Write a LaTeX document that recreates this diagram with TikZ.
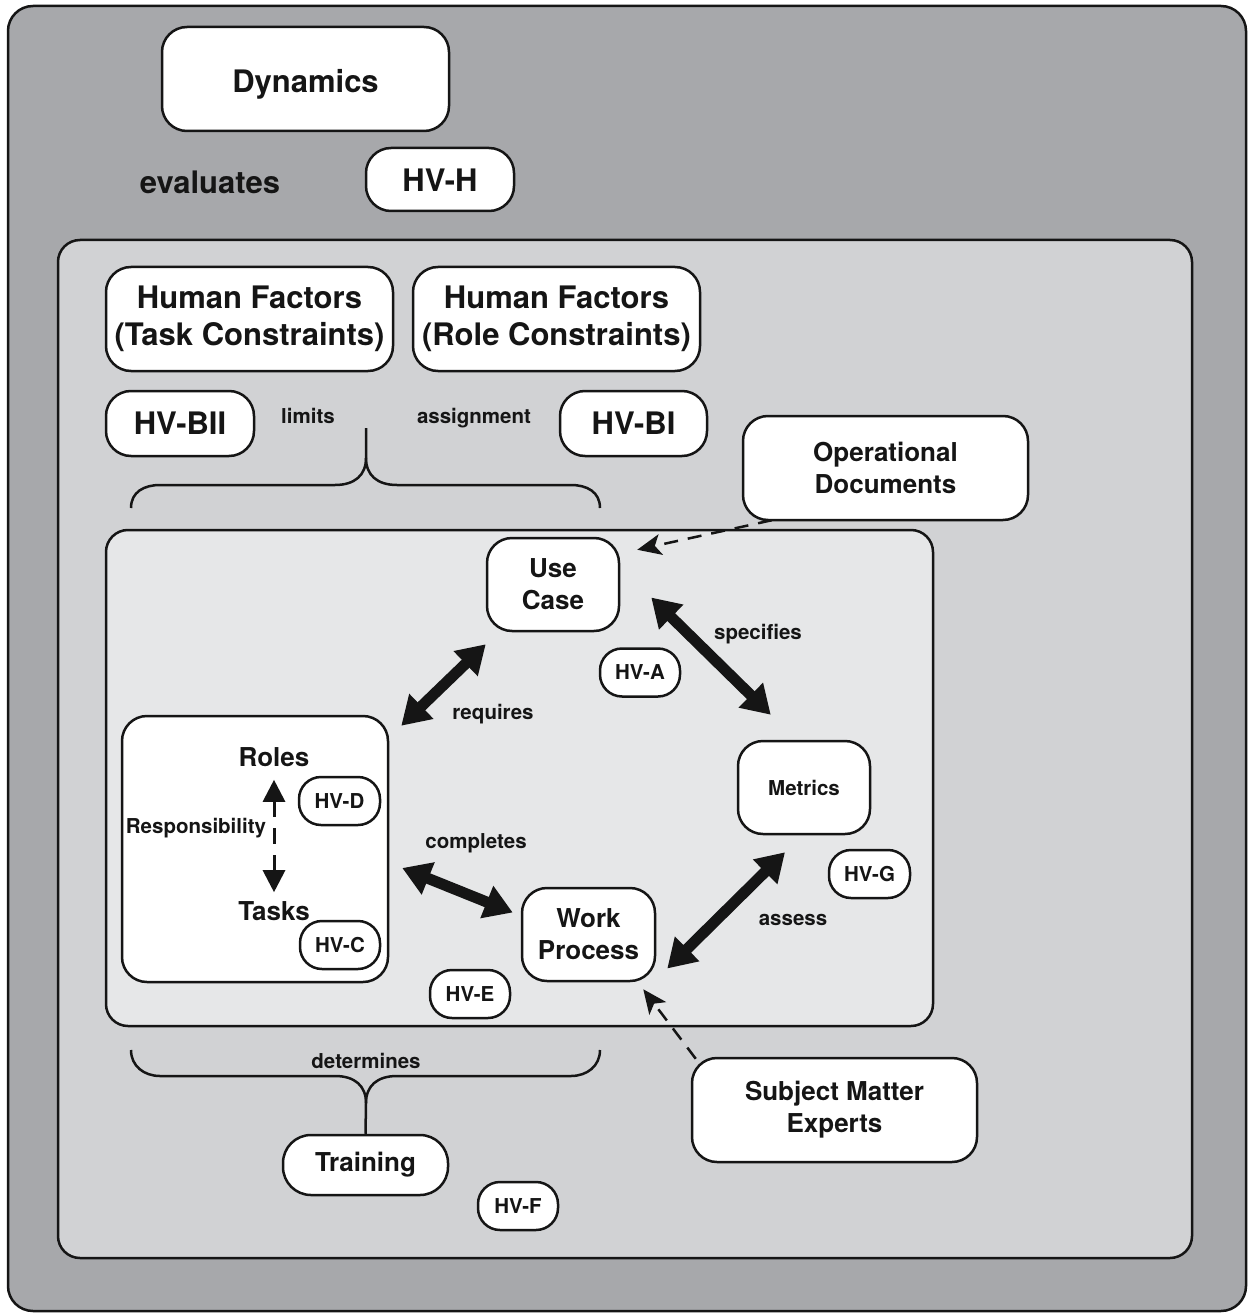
\documentclass[tikz,border=0pt]{standalone}
\usepackage{fontspec}
\setmainfont{TeX Gyre Heros}
\usetikzlibrary{arrows.meta,calc}
\definecolor{gOuter}{HTML}{A7A8AB}
\definecolor{gMid}{HTML}{D1D2D4}
\definecolor{gIn}{HTML}{E6E7E8}
\definecolor{ink}{HTML}{151515}
\newcommand\fbig{\fontsize{31}{37}\selectfont\bfseries}
\newcommand\fmed{\fontsize{26}{32}\selectfont\bfseries}
\newcommand\fsml{\fontsize{20.5}{24}\selectfont\bfseries}
\tikzset{
  box/.style={draw=ink, fill=white, line width=2.5pt, rounded corners=25pt, align=center, inner sep=0pt, text=ink},
  pill/.style={box, rounded corners=22pt, font=\fsml, minimum width=80pt, minimum height=48pt},
  lbl/.style={inner sep=0pt, text=ink, align=center},
  panel/.style={draw=ink, line width=2.5pt},
  bigarrow/.style={line width=11pt, draw=ink, {Triangle[length=28pt,width=33pt]}-{Triangle[length=28pt,width=33pt]}, shorten <=0pt, shorten >=0pt},
  dasharrow/.style={line width=2.5pt, draw=ink, dash pattern=on 14pt off 10pt, -{Stealth[length=24pt,width=21pt,inset=6pt]}},
  bracestyle/.style={draw=ink, line width=2.5pt}
}
\begin{document}
\begin{tikzpicture}[x=1pt,y=-1pt]
\useasboundingbox (0,0) rectangle (1248,1313);
\fill[white] (0,0) rectangle (1248,1313);
% panels
\draw[panel, fill=gOuter, rounded corners=25pt] (8,6) rectangle (1246,1311);
\draw[panel, fill=gMid, rounded corners=22pt] (58,240) rectangle (1192,1258);
\draw[panel, fill=gIn, rounded corners=22pt] (106,530) rectangle (933,1026);
% top level
\node[box, font=\fbig, text height=28pt, text depth=0pt, minimum width=287pt, minimum height=104pt] (dyn) at (305.5,79) {Dynamics};
\node[lbl, font=\fbig] (eval) at (210,182) {evaluates};
\node[box, font=\fbig, text height=25pt, text depth=0pt, minimum width=148pt, minimum height=63pt] (hvh) at (440,179.5) {HV-H};
% human factors
\node[box, font=\fbig, minimum width=287pt, minimum height=104pt] (hft) at (249.5,319) {Human Factors\\(Task Constraints)};
\node[box, font=\fbig, minimum width=287pt, minimum height=104pt] (hfr) at (556.5,319) {Human Factors\\(Role Constraints)};
\node[box, font=\fbig, minimum width=148pt, minimum height=65pt] (hvbii) at (180,423.5) {HV-BII};
\node[box, font=\fbig, minimum width=147pt, minimum height=65pt] (hvbi) at (633.5,423.5) {HV-BI};
\node[lbl, font=\fsml] (limits) at (308,416) {limits};
\node[lbl, font=\fsml] (assign) at (474,418) {assignment};
% top brace
\draw[bracestyle] (131,508) .. controls (131,492) and (144,485) .. (160,485) -- (335,485)
  .. controls (355,485) and (366,475) .. (366,458) -- (366,428);
\draw[bracestyle] (600,508) .. controls (600,492) and (587,485) .. (571,485) -- (397,485)
  .. controls (377,485) and (366,475) .. (366,458);
% operational documents
\node[box, font=\fmed, minimum width=285pt, minimum height=104pt] (od) at (885.5,468) {Operational\\Documents};
% cycle
\node[box, font=\fmed, minimum width=132pt, minimum height=93pt] (uc) at (553,584.5) {Use\\Case};
\node[pill] (hva) at (640,672.5) {HV-A};
\node[box, font=\fsml, minimum width=132pt, minimum height=93pt] (met) at (804,787.5) {Metrics};
\node[pill, minimum width=81pt] (hvg) at (869.5,874) {HV-G};
\node[box, font=\fmed, minimum width=133pt, minimum height=93pt] (wp) at (588.5,934.5) {Work\\Process};
\node[pill] (hve) at (470,994) {HV-E};
% roles / tasks
\node[box, minimum width=266pt, minimum height=266pt] (rt) at (255,849) {};
\node[lbl, font=\fmed] (roles) at (274,757) {Roles};
\node[lbl, font=\fmed] (tasks) at (274,911) {Tasks};
\node[pill, minimum width=81pt] (hvd) at (339.5,801) {HV-D};
\node[pill] (hvc) at (340,945) {HV-C};
\node[lbl, font=\fsml] (resp) at (196,828) {Responsibility};
\draw[line width=3pt, draw=ink, dash pattern=on 16pt off 11pt, {Triangle[length=22pt,width=22pt]}-{Triangle[length=22pt,width=22pt]}]
  ([shift={(0,13)}]roles.south) -- ([shift={(0,-9)}]tasks.north);
% labels
\node[lbl, font=\fsml] (spec) at (758,634) {specifies};
\node[lbl, font=\fsml] (req) at (493,714) {requires};
\node[lbl, font=\fsml] (comp) at (476,843) {completes};
\node[lbl, font=\fsml] (assess) at (793,920) {assess};
% big arrows
\draw[bigarrow] ([shift={(12,11)}]rt.north east) -- ([shift={(0,12)}]uc.south west);
\draw[bigarrow] ([shift={(31,13)}]uc.east) -- ([shift={(34,-25)}]met.north west);
\draw[bigarrow] ([shift={(13,19)}]rt.east) -- ([shift={(-8,-22)}]wp.west);
\draw[bigarrow] ([shift={(-19,17)}]met.south) -- ([shift={(11,34)}]wp.east);
% dashed arrows
\node[box, font=\fmed, minimum width=285pt, minimum height=104pt] (sme) at (834.5,1110) {Subject Matter\\Experts};
\draw[dasharrow] ([shift={(30,-1)}]od.south west) -- ([shift={(17,13)}]uc.north east);
\draw[dasharrow] ([shift={(5,2)}]sme.north west) -- ([shift={(-13,7)}]wp.south east);
% bottom brace
\node[lbl, font=\fsml] (det) at (366,1061) {determines};
\node[box, font=\fmed, rounded corners=28pt, minimum width=165pt, minimum height=60pt] (train) at (365.5,1165) {Training};
\draw[bracestyle] (131,1050) .. controls (131,1066) and (144,1076) .. (160,1076) -- (335,1076)
  .. controls (355,1076) and (366,1086) .. (366,1103);
\draw[bracestyle] (600,1050) .. controls (600,1066) and (587,1076) .. (571,1076) -- (397,1076)
  .. controls (377,1076) and (366,1086) .. (366,1103);
\draw[bracestyle] (366,1103) -- (train.north);
\node[pill] (hvf) at (518,1206) {HV-F};
\end{tikzpicture}
\end{document}
